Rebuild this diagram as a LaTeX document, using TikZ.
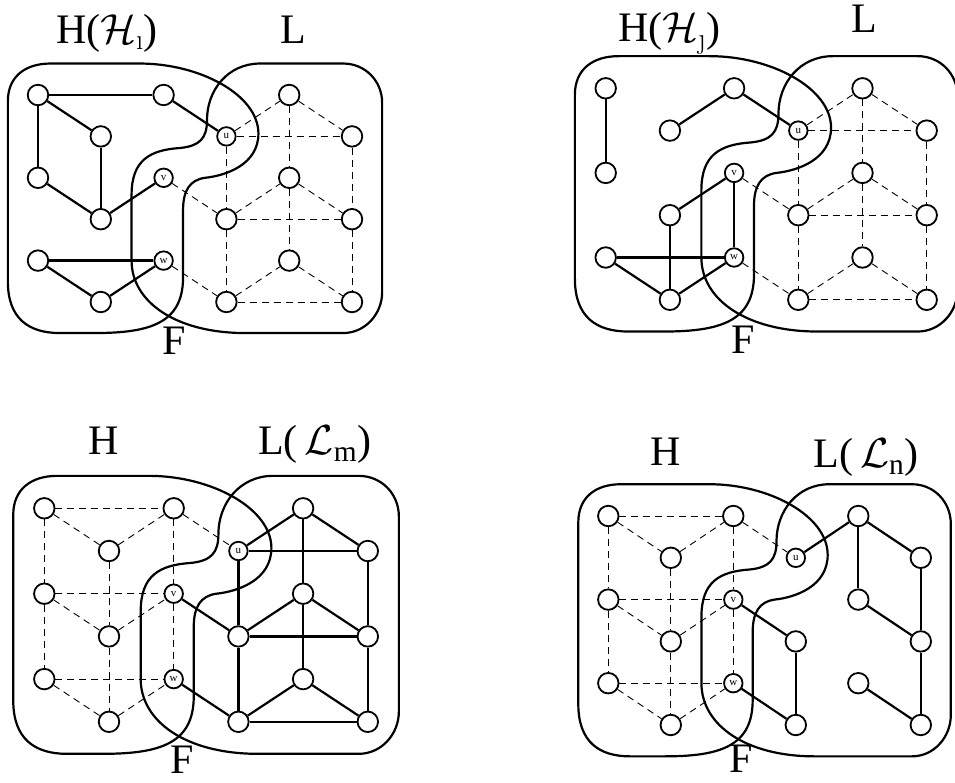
\RequirePackage{fix-cm}
\documentclass[tikz,border=0pt]{standalone}
\usepackage{amsmath}
\usepackage{fontspec}
\setmainfont{Liberation Serif}
\newfontfamily\lmfont{Latin Modern Roman}
\tikzset{
 vtx/.style={circle, draw, line width=1.8pt, minimum size=20.5pt, inner sep=0pt, fill=white},
 fvtx/.style={circle, draw, line width=1.8pt, minimum size=18.5pt, inner sep=0pt, fill=white, font=\fontsize{11}{11}\selectfont},
 sol/.style={line width=2.2pt},
 dsh/.style={line width=0.9pt, dash pattern=on 7pt off 5pt},
 blob/.style={line width=2.2pt},
 lab/.style={anchor=base, font=\fontsize{42}{48}\selectfont, inner sep=0pt},
}
\newcommand\mknodes[1]{%
 \node[vtx] (#1A1) at (0,0) {};
 \node[vtx] (#1B1) at (1,1) {};
 \node[vtx] (#1C1) at (2,0) {};
 \node[vtx] (#1A2) at (0,2) {};
 \node[vtx] (#1B2) at (1,3) {};
 \node[fvtx] (#1C2) at (2,2) {v};
 \node[vtx] (#1A3) at (0,4) {};
 \node[vtx] (#1B3) at (1,5) {};
 \node[fvtx] (#1C3) at (2,4) {w};
 \node[fvtx] (#1P1) at (3,1) {u};
 \node[vtx] (#1Q1) at (4,0) {};
 \node[vtx] (#1R1) at (5,1) {};
 \node[vtx] (#1P2) at (3,3) {};
 \node[vtx] (#1Q2) at (4,2) {};
 \node[vtx] (#1R2) at (5,3) {};
 \node[vtx] (#1P3) at (3,5) {};
 \node[vtx] (#1Q3) at (4,4) {};
 \node[vtx] (#1R3) at (5,5) {};
}
\newcommand\mkblobs{%
 \draw[blob] (-0.48,0.15) .. controls (-0.48,-0.45) and (-0.2,-0.76) .. (0.2,-0.76)
  -- (1.62,-0.76) .. controls (2.58,-0.76) and (3.51,0) .. (3.51,0.93)
  .. controls (3.51,1.69) and (2.98,1.95) .. (2.66,2.0)
  .. controls (2.42,2.05) and (2.31,2.3) .. (2.31,2.78)
  -- (2.31,4.4) .. controls (2.31,5.5) and (1.8,5.75) .. (0.9,5.75)
  -- (0.35,5.75) .. controls (-0.15,5.75) and (-0.48,5.4) .. (-0.48,4.5) -- cycle;
 \draw[blob] (3.535,-0.76) -- (4.86,-0.76) .. controls (5.21,-0.76) and (5.48,-0.34) .. (5.48,0.19)
  -- (5.48,4.76) .. controls (5.48,5.29) and (5.21,5.75) .. (4.86,5.75)
  -- (3.3,5.75) .. controls (2.2,5.75) and (1.49,5.0) .. (1.49,4.0)
  -- (1.49,2.415) .. controls (1.49,1.570) and (1.783,1.329) .. (2.261,1.280)
  .. controls (2.580,1.232) and (2.691,1.039) .. (2.691,0.604)
  .. controls (2.691,-0.121) and (3.025,-0.76) .. (3.535,-0.76) -- cycle;
}
\newcommand\edges[3]{\foreach \a/\b in {#2} {\draw[#3] (#1\a) -- (#1\b);}}
\newcommand\Hall{A1/C1,A1/B1,B1/C1,A2/C2,A2/B2,B2/C2,A3/C3,A3/B3,B3/C3,A1/A2,A2/A3,B1/B2,B2/B3,C1/C2,C2/C3,C1/P1}
\newcommand\Lall{P1/R1,P1/Q1,Q1/R1,P2/R2,P2/Q2,Q2/R2,P3/R3,P3/Q3,Q3/R3,P1/P2,P2/P3,Q1/Q2,Q2/Q3,R1/R2,R2/R3,C2/P2,C3/P3}
\begin{document}
\begin{tikzpicture}[x=1pt,y=-1pt]
\useasboundingbox (0,0) rectangle (955,783);
% panel 1
\begin{scope}[shift={(38pt,-95pt)}, x=62.8pt, y=-41.4pt]
 \mkblobs
 \mknodes{a}
 \expandafter\edges\expandafter{\expandafter a\expandafter}\expandafter{\Lall}{dsh}
 \edges{a}{A1/C1,A1/B1,A1/A2,B1/B2,A2/B2,B2/C2,C1/P1,A3/C3,A3/B3,B3/C3}{sol}
 \node[lab] (ah) at (1.1,-1.25) {H($\mathcal{H}_{\text{\lmfont\i}}$)};
 \node[lab] (al) at (4.06,-1.25) {L};
 \node[lab] (af) at (2.17,6.26) {F};
\end{scope}
% panel 2
\begin{scope}[shift={(605.7pt,-88.3pt)}, x=64.2pt, y=-42.3pt]
 \mkblobs
 \mknodes{b}
 \expandafter\edges\expandafter{\expandafter b\expandafter}\expandafter{\Lall}{dsh}
 \edges{b}{A1/A2,B1/C1,C1/P1,B2/C2,B2/B3,A3/C3,A3/B3,B3/C3,C2/C3}{sol}
 \node[lab] (bh) at (0.99,-1.1) {H($\mathcal{H}_{\text{\lmfont\j}}$)};
 \node[lab] (bl) at (4.03,-1.31) {L};
 \node[lab] (bf) at (2.14,6.28) {F};
\end{scope}
% panel 3
\begin{scope}[shift={(44.3pt,-508.3pt)}, x=64.7pt, y=-42.7pt]
 \mkblobs
 \mknodes{c}
 \expandafter\edges\expandafter{\expandafter c\expandafter}\expandafter{\Hall}{dsh}
 \expandafter\edges\expandafter{\expandafter c\expandafter}\expandafter{\Lall}{sol}
 \node[lab] (ch) at (0.91,-1.25) {H};
 \node[lab] (cl) at (4.18,-1.25) {L($\,\mathcal{L}_{\mathrm{m}}$)};
 \node[lab] (cf) at (2.13,6.2) {F};
\end{scope}
% panel 4
\begin{scope}[shift={(608.3pt,-516pt)}, x=62.5pt, y=-41.8pt]
 \mkblobs
 \mknodes{d}
 \expandafter\edges\expandafter{\expandafter d\expandafter}\expandafter{\Hall}{dsh}
 \edges{d}{P1/Q1,Q1/Q2,Q1/R1,R1/R2,Q2/R2,R2/R3,Q3/R3,C2/P2,P2/P3,C3/P3}{sol}
 \node[lab] (dh) at (0.92,-1.22) {H};
 \node[lab] (dl) at (4.12,-1.15) {L($\,\mathcal{L}_{\mathrm{n}}$)};
 \node[lab] (df) at (2.13,6.14) {F};
\end{scope}
\end{tikzpicture}
\end{document}
